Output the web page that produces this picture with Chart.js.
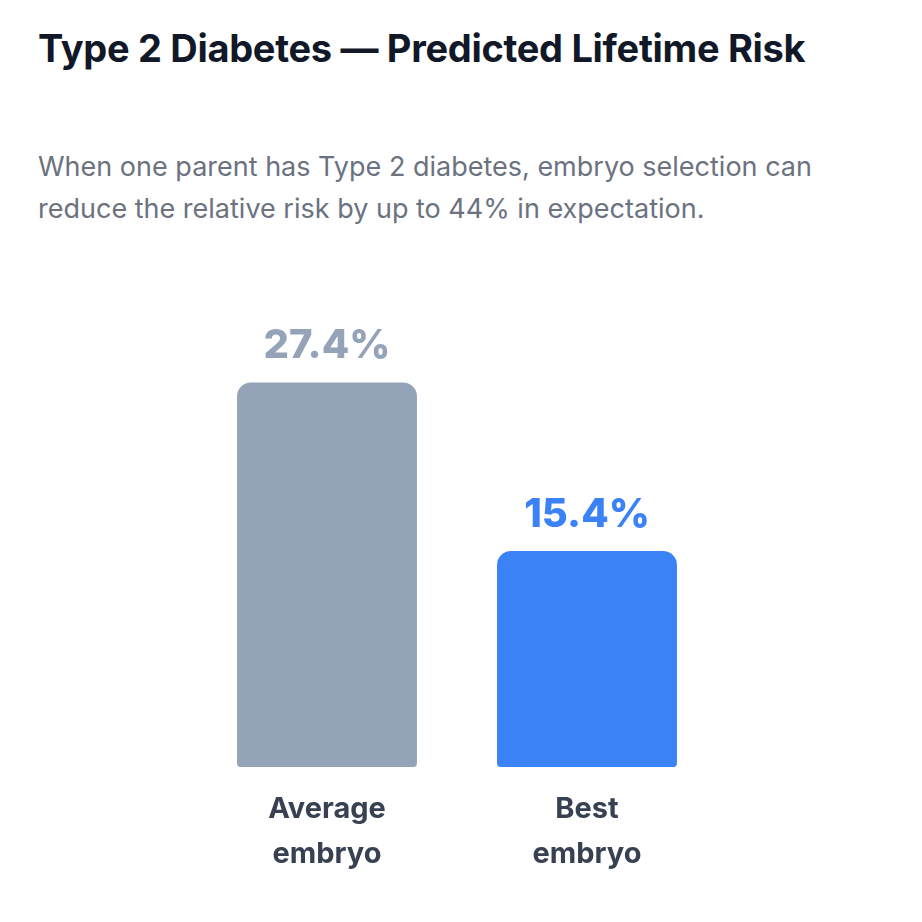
<!DOCTYPE html>
<html><head><meta charset="utf-8">
<script src="https://cdn.jsdelivr.net/npm/chart.js@4/dist/chart.umd.min.js"></script>
<style>
body{margin:0;background:#fff;font-family:Inter,"Noto Sans",sans-serif;width:922px;height:922px;position:relative;overflow:hidden}
h1{position:absolute;left:38px;top:22px;margin:0;font-size:38px;line-height:52px;font-weight:700;color:#111827;width:790px;letter-spacing:-0.3px}
p{position:absolute;left:38px;top:146px;margin:0;font-size:27px;line-height:42px;color:#6b7280;width:830px}
#w{position:absolute;left:197px;top:290px;width:520px;height:599px}
</style></head><body>
<h1>Type 2 Diabetes — Predicted Lifetime Risk</h1>
<p>When one parent has Type 2 diabetes, embryo selection can reduce the relative risk by up to 44% in expectation.</p>
<div id="w"><canvas id="c"></canvas></div>
<script>
const categories=[["Average","embryo"],["Best","embryo"]];
const values=[27.4,15.4];
const colors=["#94a3b8","#3b82f6"];
const valueLabels=["27.4%","15.4%"];
const lbl={id:"lbl",afterDatasetsDraw(ch){const ctx=ch.ctx;const m=ch.getDatasetMeta(0);ctx.save();ctx.font="800 40px Inter";ctx.textAlign="center";ctx.textBaseline="alphabetic";m.data.forEach((b,i)=>{ctx.fillStyle=colors[i];ctx.fillText(valueLabels[i],b.x,b.y-24);});ctx.restore();}};
new Chart(document.getElementById("c"),{type:"bar",data:{labels:categories,datasets:[{data:values,backgroundColor:colors,borderRadius:{topLeft:14,topRight:14,bottomLeft:4,bottomRight:4},borderSkipped:false,barPercentage:1,categoryPercentage:0.692}]},
options:{responsive:true,maintainAspectRatio:false,animation:false,layout:{padding:{top:56}},plugins:{legend:{display:false},tooltip:{enabled:false}},
scales:{y:{display:false,min:0,max:30},x:{grid:{display:false},border:{display:false},ticks:{color:"#374151",font:{family:"Inter",size:29,weight:"700",lineHeight:1.55},padding:12}}}},plugins:[lbl]});
</script></body></html>
